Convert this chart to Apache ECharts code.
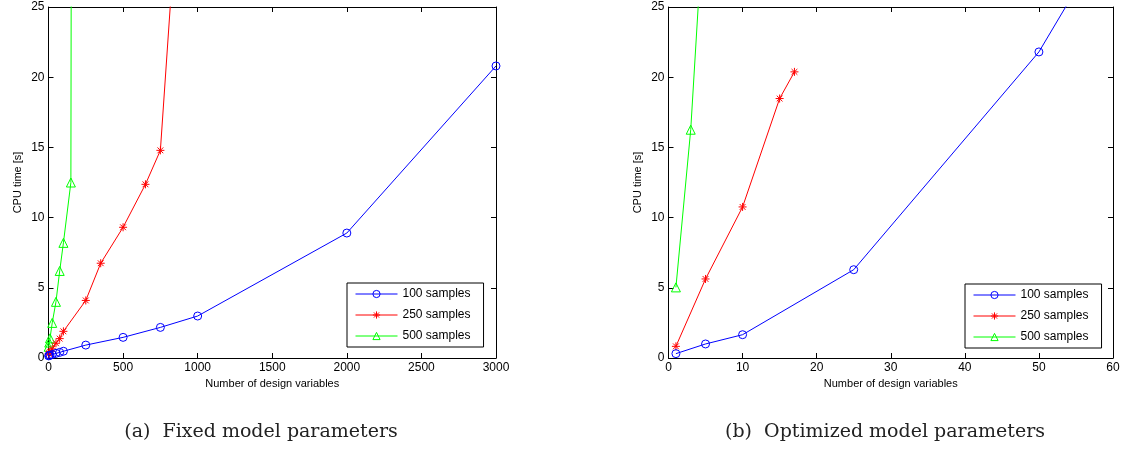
<!DOCTYPE html>
<html><head><meta charset="utf-8">
<script src="https://cdn.jsdelivr.net/npm/echarts@6/dist/echarts.min.js"></script>
<style>html,body{margin:0;padding:0;background:#fff}#c{width:1125px;height:450px}</style>
</head><body><div id="c"></div>
<script>
// Left panel: fixed model parameters
const leftX100 = [1, 5, 10, 25, 50, 75, 100, 250, 500, 750, 1000, 2000, 3000];
const left100  = [0.15, 0.18, 0.2, 0.25, 0.33, 0.4, 0.48, 0.92, 1.47, 2.18, 2.99, 8.9, 20.8];
const leftX250 = [1, 5, 10, 25, 50, 75, 100, 250, 350, 500, 650, 750, 1000];
const left250  = [0.3, 0.35, 0.45, 0.65, 1.05, 1.38, 1.9, 4.1, 6.75, 9.31, 12.37, 14.79, 53.5];
const leftX500 = [1, 5, 10, 25, 50, 75, 100, 150, 250];
const left500  = [0.8, 1.1, 1.4, 2.5, 4.0, 6.2, 8.2, 12.5, 650];
// Right panel: optimized model parameters
const rightX100 = [1, 5, 10, 25, 50, 75];
const right100  = [0.31, 1.0, 1.66, 6.29, 21.8, 44];
const rightX250 = [1, 5, 10, 15, 17];
const right250  = [0.83, 5.63, 10.76, 18.48, 20.38];
const rightX500 = [1, 3, 5];
const right500  = [5.03, 16.26, 33.7];

const seriesNames = ['100 samples', '250 samples', '500 samples'];
const captions = ['(a)  Fixed model parameters', '(b)  Optimized model parameters'];
const xAxisName = 'Number of design variables';
const yAxisName = 'CPU time [s]';

const zip = (xs, ys) => xs.map((x, i) => [x, ys[i]]);
const FONT = 'Liberation Sans';
const colors = ['#0000ff', '#ff0000', '#00ff00'];
const asterisk = 'path://M0,-1L0,1M-1,0L1,0M-0.72,-0.72L0.72,0.72M-0.72,0.72L0.72,-0.72';
const symbols = ['circle', asterisk, 'triangle'];
const sizes = [8, 8, 9];

function mkSeries(k, data, xi, yi) {
  return {
    type: 'line', name: seriesNames[k], data: data,
    xAxisIndex: xi, yAxisIndex: yi,
    symbol: symbols[k], symbolSize: sizes[k], showAllSymbol: true,
    lineStyle: { color: colors[k], width: 1 },
    itemStyle: { color: 'rgba(0,0,0,0)', borderColor: colors[k], borderWidth: 1 },
    emphasis: { disabled: true }, clip: true, z: 3 - k
  };
}

function xAx(gi, max, interval, pos) {
  const main = pos === 'bottom';
  return {
    type: 'value', gridIndex: gi, position: pos, min: 0, max: max, interval: interval,
    name: main ? xAxisName : '', nameLocation: 'middle', nameGap: 18,
    nameTextStyle: { fontFamily: FONT, fontSize: 11, color: '#000' },
    axisLine: { show: true, onZero: false, lineStyle: { color: '#000', width: 1 } },
    axisTick: { show: true, inside: true, length: 5, lineStyle: { color: '#000' } },
    axisLabel: { show: main, fontFamily: FONT, fontSize: 12, color: '#000', margin: 4,
                 formatter: v => String(v) },
    splitLine: { show: false }
  };
}
function yAx(gi, pos) {
  const main = pos === 'left';
  return {
    type: 'value', gridIndex: gi, position: pos, min: 0, max: 25, interval: 5,
    name: main ? yAxisName : '', nameLocation: 'middle', nameGap: 25, nameRotate: 90,
    nameTextStyle: { fontFamily: FONT, fontSize: 11, color: '#000' },
    axisLine: { show: true, onZero: false, lineStyle: { color: '#000', width: 1 } },
    axisTick: { show: true, inside: true, length: 5, lineStyle: { color: '#000' } },
    axisLabel: { show: main, fontFamily: FONT, fontSize: 12, color: '#000', margin: 4,
                 formatter: v => String(v) },
    splitLine: { show: false }
  };
}
function legend(left, top) {
  return {
    data: seriesNames, orient: 'vertical', left: left, top: top,
    itemWidth: 42, itemHeight: 9, itemGap: 9, padding: [5, 13, 5, 8],
    borderColor: '#000', borderWidth: 1, backgroundColor: '#fff',
    lineStyle: { width: 1 }, itemStyle: { borderWidth: 1 },
    textStyle: { fontFamily: FONT, fontSize: 12, color: '#000' },
    selectedMode: false, z: 10
  };
}

const chart = echarts.init(document.getElementById('c'), null, { renderer: 'canvas' });
chart.setOption({
  animation: false,
  backgroundColor: '#fff',
  grid: [
    { left: 48.5, right: 629, top: 7, bottom: 92 },
    { left: 668.5, right: 12, top: 7, bottom: 92 }
  ],
  xAxis: [xAx(0, 3000, 500, 'bottom'), xAx(0, 3000, 500, 'top'),
          xAx(1, 60, 10, 'bottom'), xAx(1, 60, 10, 'top')],
  yAxis: [yAx(0, 'left'), yAx(0, 'right'), yAx(1, 'left'), yAx(1, 'right')],
  legend: [legend(347, 283), legend(965, 284)],
  series: [
    mkSeries(0, zip(leftX100, left100), 0, 0),
    mkSeries(1, zip(leftX250, left250), 0, 0),
    mkSeries(2, zip(leftX500, left500), 0, 0),
    mkSeries(0, zip(rightX100, right100), 2, 2),
    mkSeries(1, zip(rightX250, right250), 2, 2),
    mkSeries(2, zip(rightX500, right500), 2, 2)
  ],
  graphic: [
    { type: 'text', x: 261, y: 432, style: { text: captions[0], align: 'center', verticalAlign: 'middle', font: '19px "DejaVu Serif"', fill: '#222' } },
    { type: 'text', x: 885, y: 432, style: { text: captions[1], align: 'center', verticalAlign: 'middle', font: '19px "DejaVu Serif"', fill: '#222' } }
  ]
});
</script></body></html>
